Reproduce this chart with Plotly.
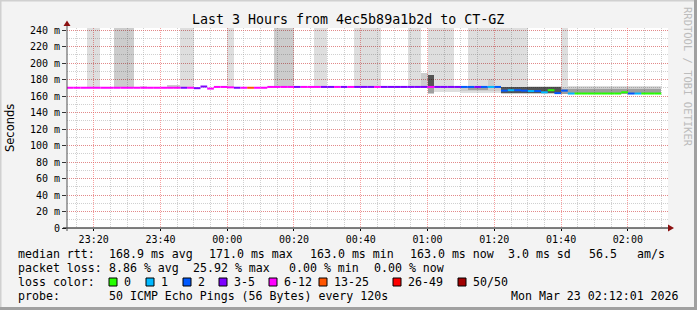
import plotly.graph_objects as go
from datetime import datetime, timedelta

# ---------------- data ----------------
step_times = [
    "23:12", "23:14", "23:16", "23:18", "23:20", "23:22", "23:24", "23:26", "23:28", "23:30",
    "23:32", "23:34", "23:36", "23:38", "23:40", "23:42", "23:44", "23:46", "23:48", "23:50",
    "23:52", "23:54", "23:56", "23:58", "00:00", "00:02", "00:04", "00:06", "00:08", "00:10",
    "00:12", "00:14", "00:16", "00:18", "00:20", "00:22", "00:24", "00:26", "00:28", "00:30",
    "00:32", "00:34", "00:36", "00:38", "00:40", "00:42", "00:44", "00:46", "00:48", "00:50",
    "00:52", "00:54", "00:56", "00:58", "01:00", "01:02", "01:04", "01:06", "01:08", "01:10",
    "01:12", "01:14", "01:16", "01:18", "01:20", "01:22", "01:24", "01:26", "01:28", "01:30",
    "01:32", "01:34", "01:36", "01:38", "01:40", "01:42", "01:44", "01:46", "01:48", "01:50",
    "01:52", "01:54", "01:56", "01:58", "02:00", "02:02", "02:04", "02:06", "02:08",
]

median_ms = [
    170.0, 170.0, 170.0, 170.0, 170.0, 170.0, 170.0, 170.0, 170.0, 170.0,
    170.0, 170.0, 170.0, 170.0, 170.0, 170.0, 170.0, 170.0, 170.0, 169.5,
    171.5, 169.0, 171.0, 171.0, 170.5, 170.0, 170.0, 170.0, 170.0, 170.0,
    171.0, 171.0, 171.0, 171.0, 171.0, 171.0, 171.0, 171.0, 171.0, 171.0,
    171.0, 171.0, 171.0, 171.0, 171.0, 171.0, 171.0, 171.0, 171.0, 171.0,
    171.0, 171.0, 171.0, 171.0, 171.0, 171.0, 171.0, 171.0, 171.0, 171.0,
    171.0, 171.0, 171.0, 171.0, 171.0, 166.5, 167.0, 167.0, 166.5, 166.0,
    166.0, 164.5, 167.0, 163.5, 166.5, 163.0, 163.0, 163.0, 163.0, 163.0,
    163.0, 163.0, 163.0, 164.5, 163.0, 163.0, 163.0, 163.0, 163.0,
]

lost_pings = [
    8, 8, 8, 8, 8, 8, 8, 8, 8, 8,
    8, 8, 8, 8, 8, 8, 8, 4, 8, 4,
    4, 8, 8, 8, 8, 4, 8, 13, 8, 8,
    8, 8, 8, 8, 4, 8, 8, 8, 4, 4,
    8, 4, 8, 4, 4, 4, 8, 4, 4, 4,
    4, 4, 4, 4, 8, 4, 4, 4, 4, 2,
    2, 4, 2, 1, 2, 2, 1, 2, 2, 1,
    2, 1, 0, 2, 2, 1, 0, 0, 0, 0,
    0, 0, 0, 0, 2, 1, 0, 0, 0,
]

N = None
smoke1_lo = [
    N, N, N, 169.5, 169.5, N, N, 169.5, 169.5, 169.5,
    N, 169.5, N, N, N, 169.5, 169.5, 169.5, 169.5, N,
    N, N, N, N, 170.0, N, N, N, N, N,
    N, 170.5, 170.5, 170.5, N, N, N, 170.5, 170.5, N,
    N, N, N, 170.5, 170.5, 170.5, 170.5, N, N, N,
    N, 170.5, 170.5, 170.5, 162.5, 165.0, 165.0, 165.0, 165.0, 164.0,
    164.0, 164.0, 164.0, 164.0, 164.0, 162.5, 162.5, 162.5, 162.5, 162.5,
    162.5, 162.5, 162.5, 162.5, 162.5, 162.5, 162.5, 162.5, 162.5, 162.5,
    162.5, 162.5, 162.5, 162.5, 162.5, 162.5, 162.5, 162.5, 162.5,
]
smoke1_hi = [
    N, N, N, 320, 320, N, N, 320, 320, 320,
    N, 172.5, N, N, N, 173.5, 173.5, 320, 320, N,
    N, N, N, N, 320, N, N, N, N, N,
    N, 320, 320, 320, N, N, N, 320, 320, N,
    N, N, N, 320, 320, 320, 320, N, N, N,
    N, 320, 320, 188, 320, 320, 320, 320, 172, 172,
    320, 320, 320, 320, 320, 320, 320, 320, 320, 172,
    172, 172, 172, 172, 320, 172, 172, 172, 172, 172,
    172, 172, 172, 172, 172, 172, 172, 172, 172,
]
smoke2_lo = [
    N, N, N, N, N, N, N, 169.5, 169.5, 169.5,
    N, N, N, N, N, 169.5, 169.5, N, N, N,
    N, N, N, N, N, N, N, N, N, N,
    N, 170.5, 170.5, 170.5, N, N, N, N, N, N,
    N, N, N, N, N, N, N, N, N, N,
    N, N, N, 170.5, 163.0, N, N, N, N, 166.0,
    166.0, 166.0, 166.0, 166.0, 166.0, 163.0, 163.0, 163.0, 163.0, 163.0,
    163.0, 163.0, 163.0, 163.0, 163.0, 162.5, 162.5, 162.5, 162.5, 162.5,
    162.5, 162.5, 162.5, 162.5, 162.5, 162.5, 162.5, 162.5, 162.5,
]
smoke2_hi = [
    N, N, N, N, N, N, N, 320, 320, 320,
    N, N, N, N, N, 173.5, 173.5, N, N, N,
    N, N, N, N, N, N, N, N, N, N,
    N, 320, 320, 320, N, N, N, N, N, N,
    N, N, N, N, N, N, N, N, N, N,
    N, N, N, 188, 186, N, N, N, N, 171.5,
    171.5, 171.5, 171.5, 181, 171.5, 171.5, 171.5, 171.5, 171.5, 171.5,
    171.5, 171.5, 171.5, 171.5, 171.5, 171.5, 171.5, 171.5, 171.5, 171.5,
    171.5, 171.5, 171.5, 171.5, 171.5, 171.5, 171.5, 171.5, 171.5,
]
smoke3_lo = [
    N, N, N, N, N, N, N, N, N, N,
    N, N, N, N, N, N, N, N, N, N,
    N, N, N, N, N, N, N, N, N, N,
    N, N, N, N, N, N, N, N, N, N,
    N, N, N, N, N, N, N, N, N, N,
    N, N, N, N, 164.0, N, N, N, N, N,
    167.0, 167.0, 167.0, N, N, 163.2, 163.2, 163.2, 163.2, 163.2,
    163.2, 163.2, 163.2, 163.2, 163.0, 163.0, 163.0, 163.0, 163.0, 163.0,
    163.0, 163.0, 163.0, 163.0, 163.0, 163.0, 163.0, 163.0, 163.0,
]
smoke3_hi = [
    N, N, N, N, N, N, N, N, N, N,
    N, N, N, N, N, N, N, N, N, N,
    N, N, N, N, N, N, N, N, N, N,
    N, N, N, N, N, N, N, N, N, N,
    N, N, N, N, N, N, N, N, N, N,
    N, N, N, N, 185.0, N, N, N, N, N,
    171.0, 171.0, 171.0, N, N, 171.3, 171.3, 171.3, 171.3, 171.3,
    171.3, 171.3, 171.3, 171.3, 168.5, 168.5, 168.5, 168.5, 168.5, 168.5,
    168.5, 168.5, 168.5, 168.5, 168.5, 168.5, 168.5, 168.5, 168.5,
]
smoke4_lo = [
    N, N, N, N, N, N, N, N, N, N,
    N, N, N, N, N, N, N, N, N, N,
    N, N, N, N, N, N, N, N, N, N,
    N, N, N, N, N, N, N, N, N, N,
    N, N, N, N, N, N, N, N, N, N,
    N, N, N, N, 171.3, N, N, N, N, N,
    N, N, N, N, N, 164.0, 164.0, 164.0, 164.0, 164.0,
    164.0, 164.0, 164.0, 164.0, N, N, N, N, N, N,
    N, N, N, N, N, N, N, N, N,
]
smoke4_hi = [
    N, N, N, N, N, N, N, N, N, N,
    N, N, N, N, N, N, N, N, N, N,
    N, N, N, N, N, N, N, N, N, N,
    N, N, N, N, N, N, N, N, N, N,
    N, N, N, N, N, N, N, N, N, N,
    N, N, N, N, 185.5, N, N, N, N, N,
    N, N, N, N, N, 170.5, 170.5, 170.5, 170.5, 170.5,
    170.5, 170.5, 170.5, 170.5, N, N, N, N, N, N,
    N, N, N, N, N, N, N, N, N,
]

y_tick_values = [0, 20, 40, 60, 80, 100, 120, 140, 160, 180, 200, 220, 240]
y_tick_labels = ["0", "20 m", "40 m", "60 m", "80 m", "100 m", "120 m", "140 m",
                 "160 m", "180 m", "200 m", "220 m", "240 m"]

loss_classes = ["0", "1", "2", "3-5", "6-12", "13-25", "26-49", "50/50"]
loss_upper = [0, 1, 2, 5, 12, 25, 49, 50]

title_text = "Last 3 Hours from 4ec5b89a1b2d to CT-GZ"
rtt_row = [("median rtt:", 16), ("168.9 ms avg", 107), ("171.0 ms max", 207),
           ("163.0 ms min", 308), ("163.0 ms now", 408), ("3.0 ms sd", 506),
           ("56.5", 587), ("am/s", 635)]
loss_row = [("packet loss:", 16), ("8.86 % avg", 107), ("25.92 % max", 191),
            ("0.00 % min", 287), ("0.00 % now", 372)]
probe_row = [("probe:", 16), ("50 ICMP Echo Pings (56 Bytes) every 120s", 107)]
stamp_text = "Mon Mar 23 02:12:01 2026"

# ---------------- styling ----------------
W, H = 697, 310
L, R, T, B = 67, 668, 28, 228
MONO = "DejaVu Sans Mono"
loss_colors = ["#26ff00", "#00b8ff", "#0059ff", "#7e00ff", "#ff00ff", "#ff5500", "#ff0000", "#a10000"]
smoke_colors = ["rgba(0,0,0,0.13)", "rgba(0,0,0,0.08)", "rgba(0,0,0,0.22)", "rgba(0,0,0,0.47)"]
legend_box_x = [109, 146, 183, 219, 269, 319, 393, 458]


def px(x):
    return (x - L) / (R - L)


def py(y):
    return (B - y) / (B - T)


def to_dt(s):
    h, m = map(int, s.split(":"))
    day = 22 if h >= 12 else 23
    return datetime(2026, 3, day, h, m)


starts = [to_dt(s) for s in step_times]
step = timedelta(minutes=2)
centers = [s + step / 2 for s in starts]

fig = go.Figure()

for lo_arr, hi_arr, col in [(smoke1_lo, smoke1_hi, smoke_colors[0]),
                            (smoke2_lo, smoke2_hi, smoke_colors[1]),
                            (smoke3_lo, smoke3_hi, smoke_colors[2]),
                            (smoke4_lo, smoke4_hi, smoke_colors[3])]:
    xs, bases, hs = [], [], []
    for c, lo, hi in zip(centers, lo_arr, hi_arr):
        if lo is None or hi is None:
            continue
        xs.append(c)
        bases.append(lo)
        hs.append(hi - lo)
    fig.add_trace(go.Bar(x=xs, y=hs, base=bases, width=120000,
                         marker=dict(color=col, line=dict(width=0)),
                         showlegend=False, hoverinfo="skip"))


def loss_class(n):
    for k, u in enumerate(loss_upper):
        if n <= u:
            return k
    return len(loss_upper) - 1


for k, col in enumerate(loss_colors):
    xs, ys = [], []
    for s, m, n in zip(starts, median_ms, lost_pings):
        if loss_class(n) == k:
            xs += [s, s + step, None]
            ys += [m, m, None]
    if xs:
        fig.add_trace(go.Scatter(x=xs, y=ys, mode="lines",
                                 line=dict(color=col, width=2),
                                 showlegend=False, hoverinfo="skip"))

grid_major = "rgba(240,80,80,0.55)"
grid_minor = "rgba(150,150,150,0.45)"

fig.update_layout(
    width=W, height=H, autosize=False,
    margin=dict(l=L, r=W - R, t=T, b=H - B, pad=0),
    paper_bgcolor="#f3f3f3", plot_bgcolor="#ffffff",
    barmode="overlay", bargap=0,
    showlegend=False,
    font=dict(family=MONO, size=10, color="#000000"),
    xaxis=dict(
        type="date",
        range=[datetime(2026, 3, 22, 23, 12, 1), datetime(2026, 3, 23, 2, 12, 1)],
        tick0=datetime(2026, 3, 22, 23, 20), dtick=20 * 60 * 1000,
        tickformat="%H:%M", ticks="outside", ticklen=2, tickcolor="#000000",
        showgrid=True, gridcolor=grid_major, griddash="1px,1px", gridwidth=1,
        minor=dict(dtick=5 * 60 * 1000, showgrid=True, gridcolor=grid_minor,
                   griddash="1px,1px", gridwidth=1),
        showline=False, zeroline=False, fixedrange=True,
        tickfont=dict(family=MONO, size=10, color="#000000"),
    ),
    yaxis=dict(
        range=[0, (B - T) / ((B - 30) / 240.0)],
        tickvals=y_tick_values, ticktext=y_tick_labels,
        ticks="outside", ticklen=4, tickcolor="#333333",
        showgrid=True, gridcolor=grid_major, griddash="1px,1px", gridwidth=1,
        minor=dict(dtick=10, showgrid=True, gridcolor=grid_minor,
                   griddash="1px,1px", gridwidth=1),
        showline=False, zeroline=False, fixedrange=True,
        tickfont=dict(family=MONO, size=10, color="#000000"),
    ),
)

shapes = []
# axes
shapes.append(dict(type="line", xref="paper", yref="paper", x0=px(63), x1=px(669),
                   y0=py(228), y1=py(228), line=dict(color="#000000", width=1)))
shapes.append(dict(type="line", xref="paper", yref="paper", x0=px(67), x1=px(67),
                   y0=py(231), y1=py(24), line=dict(color="#505050", width=1)))
# arrows
shapes.append(dict(type="path", xref="paper", yref="paper",
                   path=f"M {px(668)} {py(224.5)} L {px(674)} {py(228)} L {px(668)} {py(231.5)} Z",
                   fillcolor="#8b1010", line=dict(width=0)))
shapes.append(dict(type="path", xref="paper", yref="paper",
                   path=f"M {px(63.5)} {py(26)} L {px(67)} {py(20.5)} L {px(70.5)} {py(26)} Z",
                   fillcolor="#8b1010", line=dict(width=0)))
# frame
shapes.append(dict(type="line", xref="paper", yref="paper", x0=px(0), x1=px(697),
                   y0=py(0.5), y1=py(0.5), line=dict(color="#d0d0d0", width=2)))
shapes.append(dict(type="line", xref="paper", yref="paper", x0=px(0.5), x1=px(0.5),
                   y0=py(0), y1=py(310), line=dict(color="#d0d0d0", width=2)))
shapes.append(dict(type="line", xref="paper", yref="paper", x0=px(695.5), x1=px(695.5),
                   y0=py(0), y1=py(310), line=dict(color="#a0a0a0", width=3)))
shapes.append(dict(type="line", xref="paper", yref="paper", x0=px(0), x1=px(697),
                   y0=py(308.5), y1=py(308.5), line=dict(color="#a0a0a0", width=3)))
# loss colour boxes
for bx, col in zip(legend_box_x, loss_colors):
    shapes.append(dict(type="rect", xref="paper", yref="paper",
                       x0=px(bx), x1=px(bx + 8), y0=py(286), y1=py(278),
                       fillcolor=col, line=dict(color="#000000", width=1)))
fig.update_layout(shapes=shapes)

ann = []


def text(t, x, y, size=11.6, anchor="left", **kw):
    ann.append(dict(text=t, x=px(x), y=py(y), xref="paper", yref="paper",
                    xanchor=anchor, yanchor="middle", showarrow=False,
                    font=dict(family=kw.pop("family", MONO), size=size,
                              color=kw.pop("color", "#000000")), **kw))


text(title_text, 348, 19, size=13.3, anchor="center")
for t, x in rtt_row:
    text(t, x, 254)
for t, x in loss_row:
    text(t, x, 268)
text("loss color:", 16, 282)
for bx, lab in zip(legend_box_x, loss_classes):
    text(lab, bx + 13, 282)
for t, x in probe_row:
    text(t, x, 296)
text(stamp_text, 681, 296, anchor="right")
text("Seconds", 10, 128, size=11.5, anchor="center", family="DejaVu Sans", textangle=-90)
text("RRDTOOL / TOBI OETIKER", 688, 77, size=10.5, anchor="center", color="#bcbcbc", textangle=90)
fig.update_layout(annotations=ann)

fig.write_html("out.html")
